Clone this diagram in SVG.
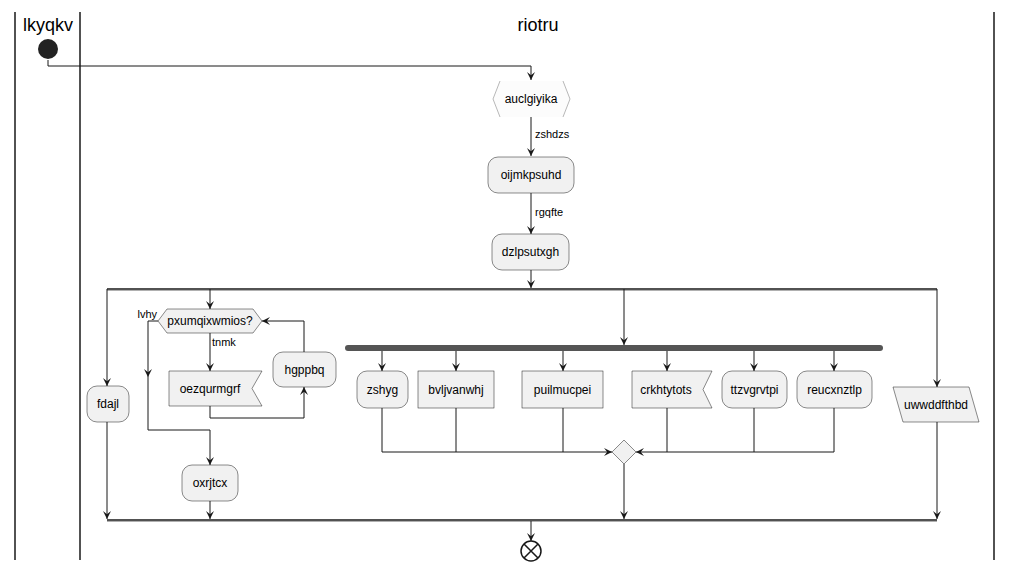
<svg xmlns="http://www.w3.org/2000/svg" width="1012" height="571" viewBox="0 0 1012 571">
<defs>
<marker id="arr" viewBox="0 0 10 10" refX="10" refY="5" markerWidth="10" markerHeight="8" markerUnits="userSpaceOnUse" orient="auto">
<path d="M0,0 L10,5 L0,10 L4,5 z" fill="#181818"/>
</marker>
<style>
.lane{stroke:#181818;stroke-width:1.5;fill:none}
.title{font-family:"Liberation Sans",Arial,sans-serif;font-size:18px;fill:#000;text-anchor:middle}
.t{font-family:"Liberation Sans",Arial,sans-serif;font-size:12px;fill:#000;text-anchor:middle;dominant-baseline:central}
.lbl{font-family:"Liberation Sans",Arial,sans-serif;font-size:11px;fill:#000}
.box{fill:#F1F1F1;stroke:#181818;stroke-width:0.5}
.ln{stroke:#181818;stroke-width:1;fill:none}
.la{stroke:#181818;stroke-width:1;fill:none;marker-end:url(#arr)}
.bar{stroke:#181818;stroke-width:1.5}
.barsh{stroke:#b0b0b0;stroke-width:1}
</style>
</defs>
<g id="swimlanes">
<line class="lane" x1="15" y1="12" x2="15" y2="560"/>
<line class="lane" x1="80" y1="12" x2="80" y2="560"/>
<line class="lane" x1="994" y1="12" x2="994" y2="560"/>
<text class="title" x="48" y="31">lkyqkv</text>
<text class="title" x="538" y="31">riotru</text>
</g>
<g id="connectors">
<path class="la" d="M48,60 V66 H531 V80"/>
<path class="la" d="M531,117 V156"/>
<text class="lbl" x="535" y="138">zshdzs</text>
<path class="la" d="M531,193 V234"/>
<text class="lbl" x="535" y="216">rgqfte</text>
<path class="la" d="M531,270 V288"/>
<line class="barsh" x1="107" y1="290.5" x2="937" y2="290.5"/>
<line class="bar" x1="107" y1="289" x2="937" y2="289"/>
<path class="la" d="M107,289 V386"/>
<path class="la" d="M107,422 V519"/>
<path class="la" d="M210,289 V309"/>
<path class="la" d="M210,333 V371"/>
<text class="lbl" x="212" y="346">tnmk</text>
<path class="la" d="M210,406 V418 H304 V387"/>
<path class="la" d="M304,352 V321 H262"/>
<path class="la" d="M158,321 H148 V377"/>
<text class="lbl" x="157" y="318" text-anchor="end">lvhy</text>
<path class="la" d="M148,377 V430 H210 V465"/>
<path class="la" d="M210,501 V519"/>
<path class="la" d="M624,289 V345"/>
<path class="la" d="M382,351 V371"/>
<path class="la" d="M456,351 V371"/>
<path class="la" d="M563,351 V371"/>
<path class="la" d="M667,351 V371"/>
<path class="la" d="M754,351 V371"/>
<path class="la" d="M834,351 V371"/>
<path class="la" d="M382,408 V452 H612"/>
<path class="ln" d="M456,408 V452"/>
<path class="ln" d="M563,408 V452"/>
<path class="la" d="M834,408 V452 H636"/>
<path class="ln" d="M754,408 V452"/>
<path class="ln" d="M667,408 V452"/>
<path class="la" d="M624,464 V519"/>
<path class="la" d="M937,289 V387"/>
<path class="la" d="M937,422 V519"/>
<line class="barsh" x1="107" y1="521.5" x2="937" y2="521.5"/>
<line class="bar" x1="107" y1="520" x2="937" y2="520"/>
<path class="la" d="M531,521 V541"/>
</g>
<g id="start"><circle cx="48" cy="49" r="10" fill="#222"/></g>
<g id="auclgiyika">
<path d="M500,81 H563 L570,99 L563,117 H500 L493,99 Z" fill="#FCFCFC" stroke="none"/>
<path d="M500,81 L493,99 L500,117 M563,81 L570,99 L563,117" fill="none" stroke="#b8b8b8" stroke-width="1"/>
<text class="t" x="531" y="99">auclgiyika</text>
</g>
<g id="oijmkpsuhd"><rect class="box" x="488" y="157" width="86" height="36" rx="10"/><text class="t" x="531" y="175">oijmkpsuhd</text></g>
<g id="dzlpsutxgh"><rect class="box" x="492" y="234" width="77" height="36" rx="10"/><text class="t" x="530.5" y="252">dzlpsutxgh</text></g>
<g id="fdajl"><rect class="box" x="87" y="386" width="42" height="36" rx="10"/><text class="t" x="108" y="404">fdajl</text></g>
<g id="pxumqixwmios"><path class="box" d="M158,321 L167,309 H253 L262,321 L253,333 H167 Z"/><text class="t" x="210" y="321">pxumqixwmios?</text></g>
<g id="oezqurmgrf"><path class="box" d="M169,371 H262 L252,388.5 L262,406 H169 Z"/><text class="t" x="210" y="388.5">oezqurmgrf</text></g>
<g id="hgppbq"><rect class="box" x="273" y="352" width="63" height="35" rx="10"/><text class="t" x="304.5" y="369.5">hgppbq</text></g>
<g id="oxrjtcx"><rect class="box" x="182" y="465" width="56" height="36" rx="10"/><text class="t" x="210" y="483">oxrjtcx</text></g>
<g id="fork"><line x1="348" y1="348" x2="880" y2="348" stroke="#555" stroke-width="6" stroke-linecap="round"/></g>
<g id="zshyg"><rect class="box" x="357" y="371" width="51" height="37" rx="10"/><text class="t" x="382.5" y="389.5">zshyg</text></g>
<g id="bvljvanwhj"><rect class="box" x="418" y="371" width="76" height="37"/><text class="t" x="456" y="389.5">bvljvanwhj</text></g>
<g id="puilmucpei"><rect class="box" x="522" y="371" width="81" height="37"/><text class="t" x="562.5" y="389.5">puilmucpei</text></g>
<g id="crkhtytots"><path class="box" d="M632,371 H712 L703,389.5 L712,408 H632 Z"/><text class="t" x="666" y="389.5">crkhtytots</text></g>
<g id="ttzvgrvtpi"><rect class="box" x="722" y="371" width="65" height="37" rx="10"/><text class="t" x="754.5" y="389.5">ttzvgrvtpi</text></g>
<g id="reucxnztlp"><rect class="box" x="797" y="371" width="75" height="37" rx="10"/><text class="t" x="834.5" y="389.5">reucxnztlp</text></g>
<g id="merge"><path class="box" d="M624,440 L636,452 L624,464 L612,452 Z"/></g>
<g id="uwwddfthbd"><path class="box" d="M893,387 H969 L979,422 H903 Z"/><text class="t" x="936" y="404.5">uwwddfthbd</text></g>
<g id="end">
<circle cx="531" cy="551" r="10" fill="#fff" stroke="#181818" stroke-width="1.5"/>
<path d="M524,544 L538,558 M538,544 L524,558" stroke="#181818" stroke-width="1.5"/>
</g>
</svg>
